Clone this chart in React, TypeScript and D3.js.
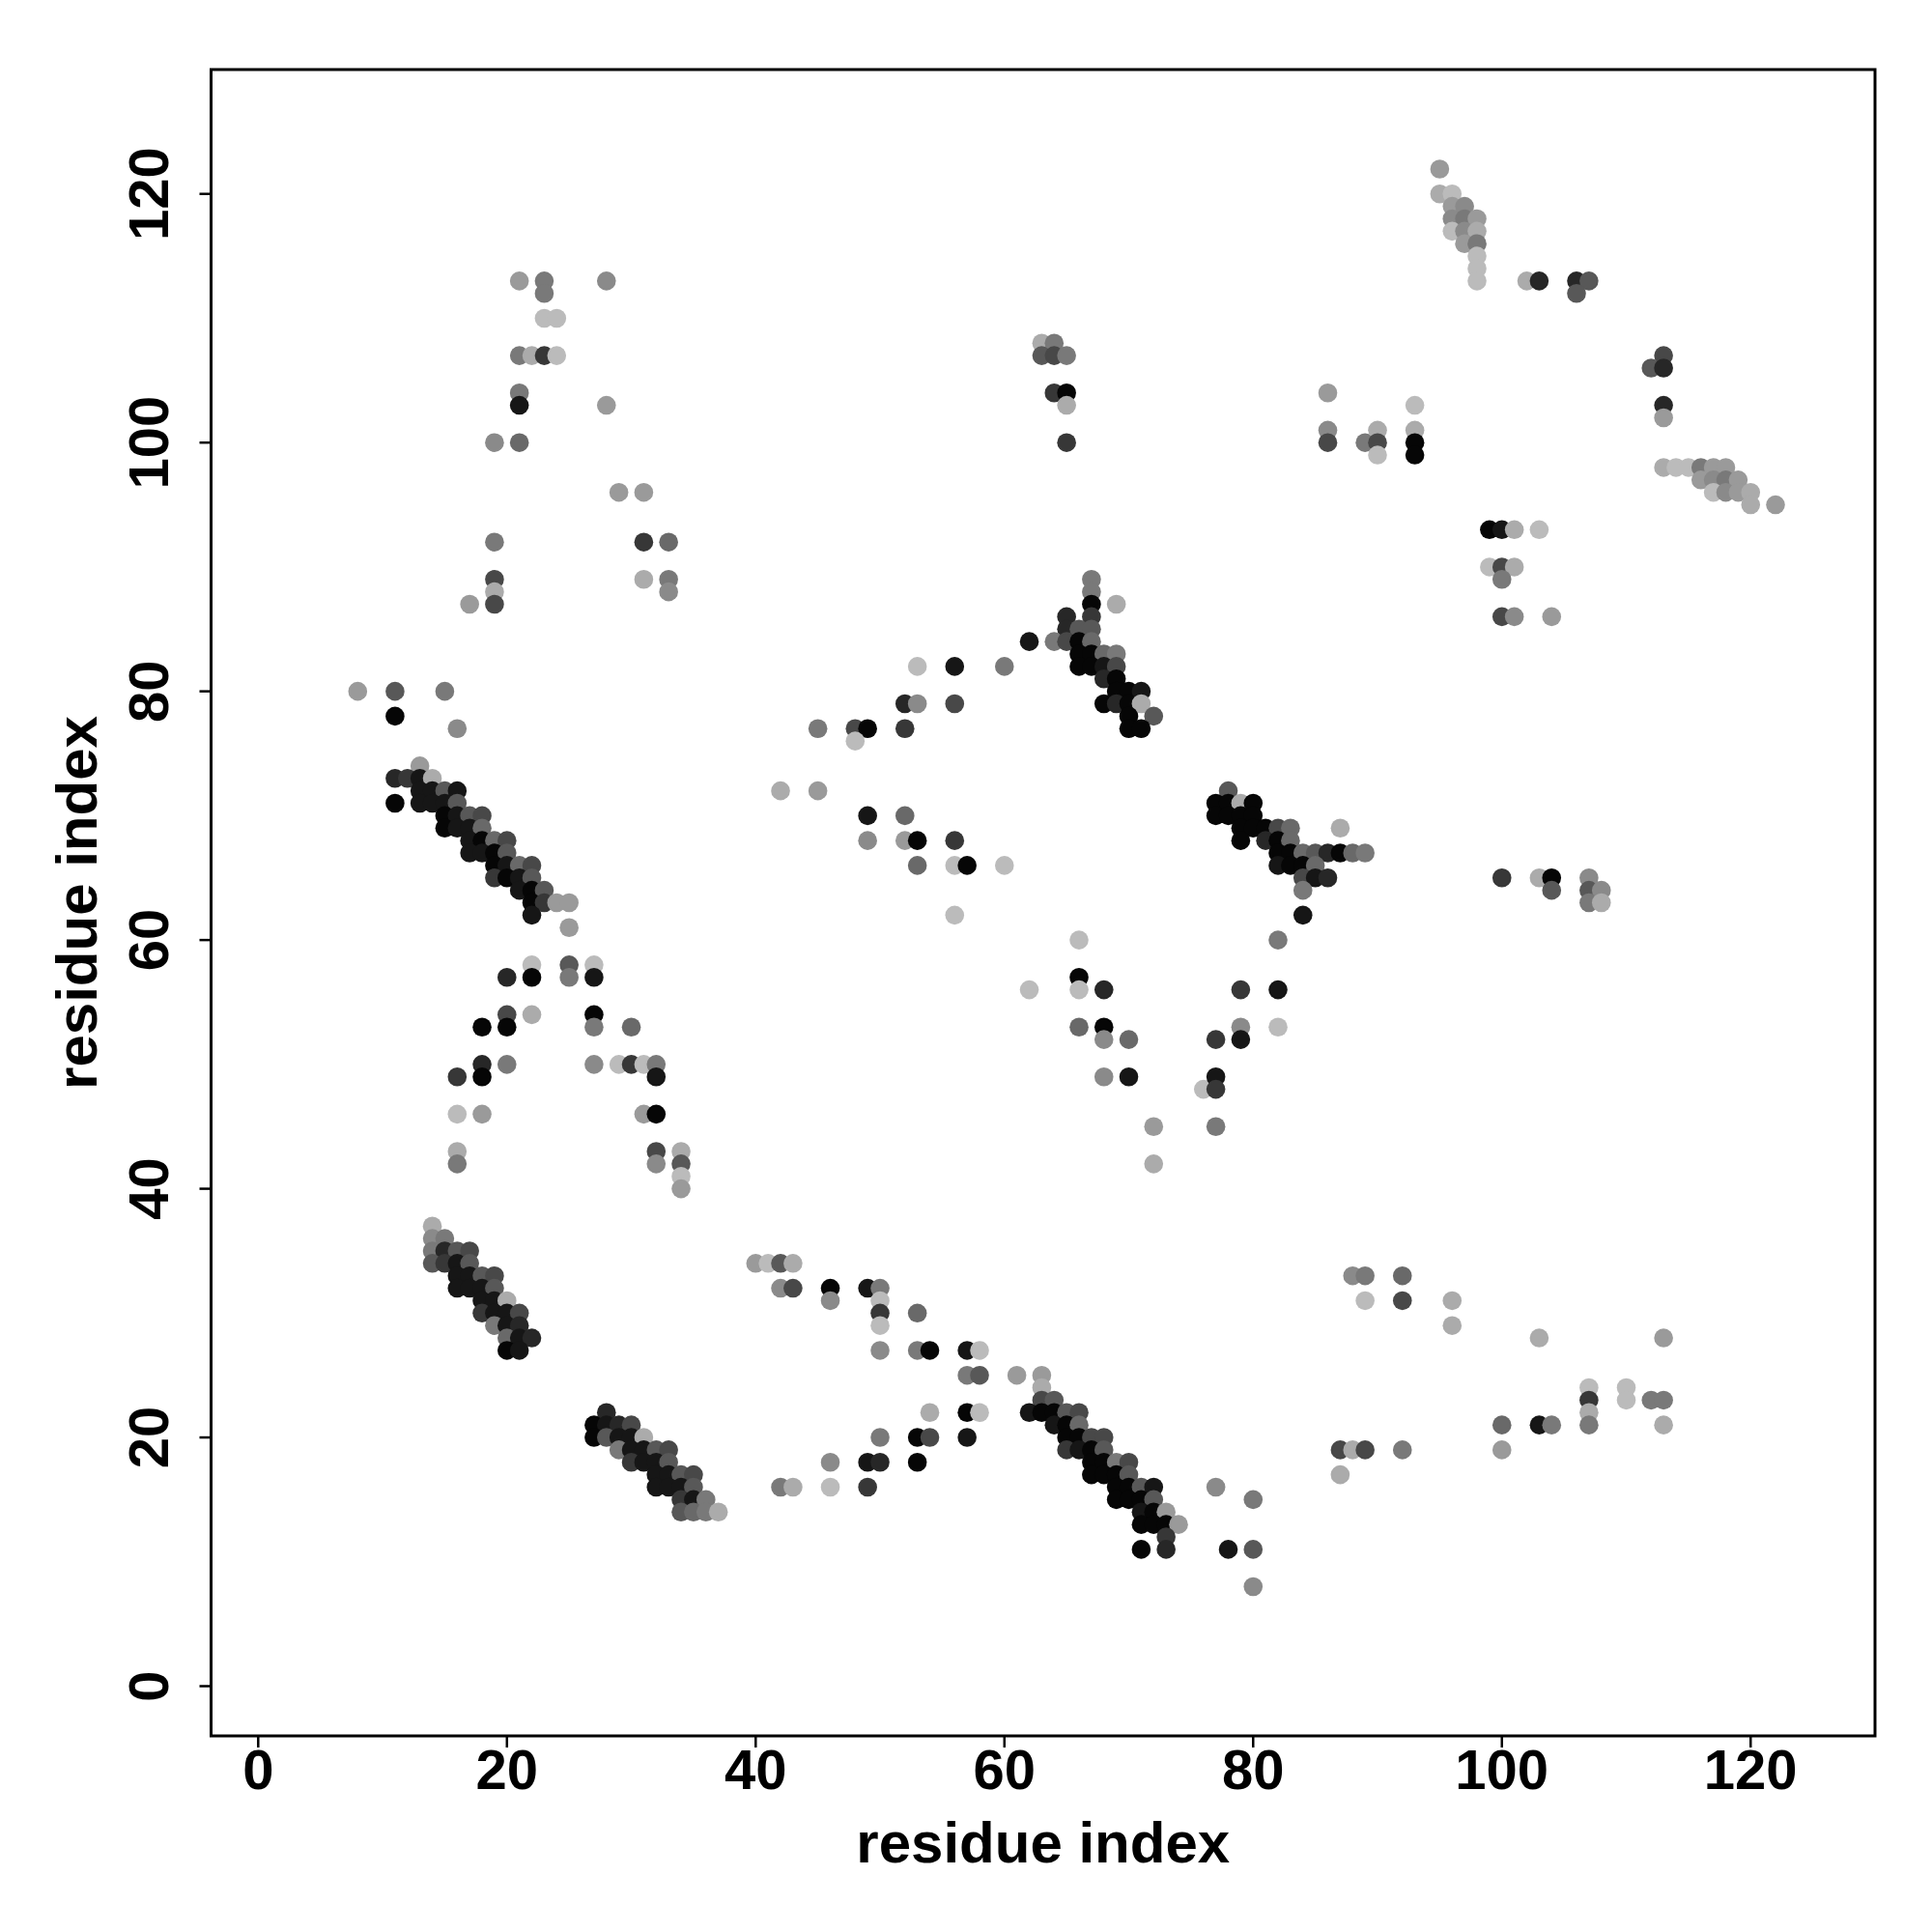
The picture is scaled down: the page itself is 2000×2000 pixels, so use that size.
import React from "react";
import * as d3 from "d3";

// contact points: [i, j, grey level 0 (black) .. 11 (#bbb)]
type Contact = [number, number, number];

const leftBand: Contact[] = [
  [8, 80, 9], [11, 80, 5], [15, 80, 7], [11, 78, 0], [16, 77, 8],
  [13, 74, 9],
  [11, 73, 2], [12, 73, 3], [13, 73, 1], [14, 73, 10],
  [13, 72, 1], [14, 72, 1], [15, 72, 5], [16, 72, 1],
  [11, 71, 0], [13, 71, 1], [14, 71, 1], [15, 71, 1], [16, 71, 5],
  [15, 70, 0], [16, 70, 1], [17, 70, 5], [18, 70, 4],
  [15, 69, 0], [16, 69, 1], [17, 69, 1], [18, 69, 6],
  [17, 68, 1], [18, 68, 0], [19, 68, 6], [20, 68, 4],
  [17, 67, 1], [18, 67, 1], [19, 67, 0], [20, 67, 5],
  [19, 66, 0], [20, 66, 1], [21, 66, 6], [22, 66, 4],
  [19, 65, 3], [20, 65, 0], [21, 65, 1], [22, 65, 5],
  [21, 64, 1], [22, 64, 0], [23, 64, 5],
  [22, 63, 0], [23, 63, 3], [24, 63, 9], [25, 63, 9],
  [22, 62, 1], [25, 61, 9],
];

const leftMid: Contact[] = [
  [20, 57, 2], [22, 58, 11], [22, 57, 0], [25, 58, 5], [25, 57, 7], [27, 58, 11], [27, 57, 1],
  [20, 54, 4], [20, 53, 0], [18, 53, 0], [22, 54, 10], [27, 54, 0], [27, 53, 7], [30, 53, 6],
  [18, 50, 2], [18, 49, 0], [16, 49, 3], [20, 50, 7],
  [27, 50, 8], [29, 50, 11], [30, 50, 3], [31, 50, 11], [32, 50, 7], [32, 49, 1],
  [16, 46, 11], [18, 46, 9], [31, 46, 9], [32, 46, 0],
  [16, 43, 10], [16, 42, 7], [32, 43, 4], [32, 42, 8],
  [34, 43, 10], [34, 42, 5], [34, 41, 11], [34, 40, 9],
];

const topLeft: Contact[] = [
  [21, 113, 9], [23, 113, 7], [23, 112, 7], [28, 113, 8],
  [23, 110, 11], [24, 110, 11],
  [21, 107, 7], [22, 107, 10], [23, 107, 3], [24, 107, 11],
  [21, 104, 7], [21, 103, 1], [28, 103, 9],
  [19, 100, 8], [21, 100, 6],
  [29, 96, 9], [31, 96, 9],
  [19, 92, 7], [31, 92, 3], [33, 92, 6],
  [19, 89, 4], [19, 88, 10], [19, 87, 4], [17, 87, 9],
  [31, 89, 10], [33, 89, 7], [33, 88, 8],
];

const lowerLeft: Contact[] = [
  [14, 37, 10],
  [14, 36, 8], [15, 36, 7],
  [14, 35, 7], [15, 35, 2], [16, 35, 5], [17, 35, 4],
  [14, 34, 5], [15, 34, 3], [16, 34, 1], [17, 34, 5],
  [16, 33, 1], [17, 33, 1], [18, 33, 5], [19, 33, 4],
  [16, 32, 1], [17, 32, 1], [18, 32, 1], [19, 32, 5],
  [18, 31, 1], [19, 31, 1], [20, 31, 10],
  [18, 30, 3], [19, 30, 1], [20, 30, 1], [21, 30, 4],
  [19, 29, 7], [20, 29, 1], [21, 29, 2],
  [20, 28, 6], [21, 28, 1], [22, 28, 2],
  [20, 27, 0], [21, 27, 1],
  [28, 22, 2],
  [27, 21, 0], [28, 21, 1], [29, 21, 2], [30, 21, 4],
  [27, 20, 0], [28, 20, 5], [29, 20, 1], [30, 20, 1], [31, 20, 10],
  [29, 19, 7], [30, 19, 1], [31, 19, 1], [32, 19, 5], [33, 19, 4],
  [30, 18, 3], [31, 18, 1], [32, 18, 1], [33, 18, 5],
  [32, 17, 1], [33, 17, 1], [34, 17, 5], [35, 17, 4],
  [32, 16, 1], [33, 16, 1], [34, 16, 1], [35, 16, 5],
  [34, 15, 3], [35, 15, 1], [36, 15, 7],
  [34, 14, 5], [35, 14, 6], [36, 14, 7], [37, 14, 10],
];

const bottomMid: Contact[] = [
  [40, 34, 9], [41, 34, 11], [42, 34, 5], [43, 34, 10],
  [42, 32, 8], [43, 32, 4], [46, 32, 0], [49, 32, 1], [50, 32, 7],
  [46, 31, 8], [50, 31, 11],
  [50, 30, 3], [53, 30, 6],
  [50, 29, 11],
  [50, 27, 8], [53, 27, 7], [54, 27, 0], [57, 27, 1], [58, 27, 11],
  [57, 25, 7], [58, 25, 5], [61, 25, 9],
  [54, 22, 10], [57, 22, 0], [58, 22, 11],
  [50, 20, 7], [53, 20, 0], [54, 20, 4], [57, 20, 1],
  [46, 18, 8], [49, 18, 1], [50, 18, 2], [53, 18, 0],
  [42, 16, 7], [43, 16, 10], [46, 16, 11], [49, 16, 3],
];

const midBand: Contact[] = [
  [63, 25, 9], [63, 24, 10],
  [63, 23, 4], [64, 23, 5],
  [62, 22, 1], [63, 22, 0], [64, 22, 0], [65, 22, 5], [66, 22, 4],
  [64, 21, 1], [65, 21, 0], [66, 21, 6],
  [65, 20, 0], [66, 20, 0], [67, 20, 4], [68, 20, 4],
  [65, 19, 3], [66, 19, 1], [67, 19, 0], [68, 19, 5],
  [67, 18, 0], [68, 18, 0], [69, 18, 7], [70, 18, 4],
  [67, 17, 0], [68, 17, 0], [69, 17, 0], [70, 17, 5],
  [69, 16, 0], [70, 16, 0], [71, 16, 5], [72, 16, 1],
  [69, 15, 0], [70, 15, 0], [71, 15, 0], [72, 15, 5],
  [71, 14, 1], [72, 14, 0], [73, 14, 9],
  [71, 13, 0], [72, 13, 0], [73, 13, 0], [74, 13, 9],
  [73, 12, 3],
  [71, 11, 0], [73, 11, 2],
  [77, 16, 8], [80, 15, 7], [78, 11, 1], [80, 11, 5], [80, 8, 8],
];

const center: Contact[] = [
  [67, 89, 7], [67, 88, 7], [67, 87, 0], [69, 87, 10],
  [65, 86, 2], [67, 86, 3],
  [65, 85, 2], [66, 85, 5], [67, 85, 5],
  [62, 84, 1], [64, 84, 7], [65, 84, 4], [66, 84, 0], [67, 84, 6],
  [66, 83, 0], [67, 83, 0], [68, 83, 6], [69, 83, 7],
  [66, 82, 0], [67, 82, 0], [68, 82, 1], [69, 82, 4],
  [68, 81, 2], [69, 81, 0],
  [69, 80, 0], [70, 80, 0], [71, 80, 1],
  [68, 79, 0], [69, 79, 2], [70, 79, 0], [71, 79, 10],
  [70, 78, 0], [72, 78, 5],
  [70, 77, 0], [71, 77, 0],
  [53, 82, 11], [56, 82, 1], [60, 82, 7],
  [52, 79, 2], [53, 79, 8], [56, 79, 4],
  [45, 77, 7], [48, 77, 4], [49, 77, 0], [52, 77, 3], [48, 76, 11],
  [42, 72, 10], [45, 72, 9],
  [49, 70, 1], [52, 70, 6],
  [49, 68, 8], [52, 68, 9], [53, 68, 0], [56, 68, 3],
  [53, 66, 6], [56, 66, 11], [57, 66, 0], [60, 66, 11],
  [56, 62, 11], [66, 60, 11],
];

const centerLow: Contact[] = [
  [62, 56, 11], [66, 57, 0], [66, 56, 11], [68, 56, 2],
  [66, 53, 6], [68, 53, 0], [68, 52, 8], [70, 52, 6],
  [68, 49, 8], [70, 49, 1],
  [72, 45, 9], [72, 42, 10],
  [76, 48, 11], [77, 49, 1], [77, 48, 3], [77, 45, 7],
  [77, 52, 3], [79, 53, 8], [79, 52, 1], [79, 56, 3], [82, 56, 1], [82, 53, 11],
  [82, 60, 7], [84, 62, 1],
];

const rightMid: Contact[] = [
  [78, 72, 5],
  [77, 71, 0], [78, 71, 0], [79, 71, 10], [80, 71, 0],
  [77, 70, 0], [78, 70, 0], [79, 70, 0], [80, 70, 0],
  [79, 69, 0], [80, 69, 0], [81, 69, 0], [82, 69, 4], [83, 69, 6], [87, 69, 10],
  [79, 68, 0], [81, 68, 2], [82, 68, 0], [83, 68, 6],
  [82, 67, 0], [83, 67, 0], [84, 67, 6], [85, 67, 5], [86, 67, 2], [87, 67, 0], [88, 67, 6], [89, 67, 7],
  [82, 66, 1], [83, 66, 0], [84, 66, 0], [85, 66, 6],
  [84, 65, 4], [85, 65, 1], [86, 65, 2],
  [84, 64, 7],
];

const topMid: Contact[] = [
  [63, 108, 10], [64, 108, 7], [63, 107, 5], [64, 107, 4], [65, 107, 7],
  [64, 104, 3], [65, 104, 0], [65, 103, 10], [65, 100, 3],
];

const topRight: Contact[] = [
  [95, 122, 9], [95, 120, 10], [96, 120, 11],
  [96, 119, 9], [97, 119, 8],
  [96, 118, 8], [97, 118, 7], [98, 118, 9],
  [96, 117, 11], [97, 117, 8], [98, 117, 10],
  [97, 116, 9], [98, 116, 7],
  [98, 115, 11], [98, 114, 11], [98, 113, 11],
  [102, 113, 10], [103, 113, 2], [106, 113, 2], [107, 113, 5], [106, 112, 5],
  [113, 107, 4], [112, 106, 5], [113, 106, 2], [113, 103, 2], [113, 102, 9],
  [86, 104, 9], [86, 101, 8], [86, 100, 4],
  [89, 100, 7], [90, 101, 10], [90, 100, 4], [90, 99, 11],
  [93, 103, 11], [93, 101, 10], [93, 100, 0], [93, 99, 0],
  [113, 98, 10], [114, 98, 11], [115, 98, 11], [116, 98, 7], [117, 98, 9], [118, 98, 9],
  [116, 97, 9], [117, 97, 8], [118, 97, 7], [119, 97, 9],
  [117, 96, 11], [118, 96, 8], [119, 96, 9], [120, 96, 10],
  [120, 95, 10], [122, 95, 9],
  [99, 93, 0], [100, 93, 1], [101, 93, 10], [103, 93, 11],
  [99, 90, 11], [100, 90, 4], [101, 90, 10], [100, 89, 7],
  [100, 86, 4], [101, 86, 8], [104, 86, 9],
];

const rightLow: Contact[] = [
  [100, 65, 3], [103, 65, 10], [104, 65, 0], [104, 64, 5],
  [107, 65, 8], [107, 64, 5], [108, 64, 8], [107, 63, 7], [108, 63, 10],
  [88, 33, 8], [89, 33, 7], [92, 33, 6],
  [89, 31, 11], [92, 31, 4], [96, 31, 10], [96, 29, 10],
  [103, 28, 10], [113, 28, 9],
  [107, 24, 11], [110, 24, 11],
  [107, 23, 3], [110, 23, 11], [112, 23, 7], [113, 23, 7],
  [107, 22, 10],
  [100, 21, 6], [103, 21, 1], [104, 21, 7], [107, 21, 7], [113, 21, 10],
  [87, 19, 4], [88, 19, 10], [89, 19, 4], [92, 19, 7], [100, 19, 9],
  [87, 17, 10],
];

const ticks = [0, 20, 40, 60, 80, 100, 120];
const axisTitle = "residue index";

const W = 2000;
const H = 2000;
const box = { left: 218.5, right: 1941, top: 72, bottom: 1797 };
const FONT = "'Liberation Sans', Arial, Helvetica, sans-serif";

export default function App() {
  const x = d3.scaleLinear().domain([-3.79, 130]).range([box.left, box.right]);
  const y = d3.scaleLinear().domain([-4, 130]).range([box.bottom, box.top]);
  const grey = d3.scaleLinear<string>().domain([0, 11]).range(["#060606", "#bbbbbb"]);

  const all: Contact[] = [
    ...leftBand, ...leftMid, ...topLeft, ...lowerLeft, ...bottomMid,
    ...midBand, ...center, ...centerLow, ...rightMid, ...topMid,
    ...topRight, ...rightLow,
  ];

  const tickLen = 12;

  return (
    <svg
      width={W}
      height={H}
      style={{ position: "absolute", left: 0, top: 0, background: "#fff" }}
    >
      <rect x={0} y={0} width={W} height={H} fill="#fff" />

      {all.map(([i, j, g], k) => (
        <circle key={k} cx={x(i)} cy={y(j)} r={9.8} fill={grey(g)} />
      ))}

      <rect
        x={box.left}
        y={box.top}
        width={box.right - box.left}
        height={box.bottom - box.top}
        fill="none"
        stroke="#000"
        strokeWidth={3}
      />

      {/* x axis */}
      {ticks.map((t) => (
        <g key={`x${t}`}>
          <line
            x1={x(t)}
            x2={x(t)}
            y1={box.bottom}
            y2={box.bottom + tickLen}
            stroke="#000"
            strokeWidth={2.5}
          />
          <text
            x={x(t)}
            y={1852}
            textAnchor="middle"
            fontFamily={FONT}
            fontWeight="bold"
            fontSize={58}
          >
            {t}
          </text>
        </g>
      ))}

      {/* y axis */}
      {ticks.map((t) => (
        <g key={`y${t}`}>
          <line
            x1={box.left - tickLen}
            x2={box.left}
            y1={y(t)}
            y2={y(t)}
            stroke="#000"
            strokeWidth={2.5}
          />
          <text
            transform={`translate(174,${y(t)}) rotate(-90)`}
            textAnchor="middle"
            fontFamily={FONT}
            fontWeight="bold"
            fontSize={58}
          >
            {t}
          </text>
        </g>
      ))}

      <text
        x={(box.left + box.right) / 2}
        y={1928}
        textAnchor="middle"
        fontFamily={FONT}
        fontWeight="bold"
        fontSize={60}
      >
        {axisTitle}
      </text>
      <text
        transform={`translate(100,${(box.top + box.bottom) / 2}) rotate(-90)`}
        textAnchor="middle"
        fontFamily={FONT}
        fontWeight="bold"
        fontSize={60}
      >
        {axisTitle}
      </text>
    </svg>
  );
}
